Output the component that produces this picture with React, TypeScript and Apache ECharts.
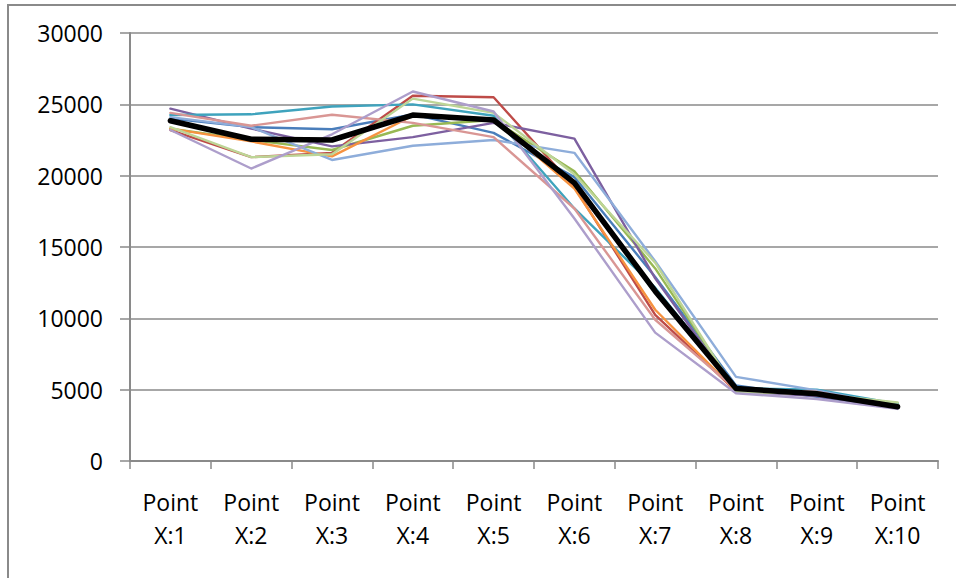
import React, { useEffect, useRef } from "react";
import * as echarts from "echarts";

const categories = [
  "Point\nX:1", "Point\nX:2", "Point\nX:3", "Point\nX:4", "Point\nX:5",
  "Point\nX:6", "Point\nX:7", "Point\nX:8", "Point\nX:9", "Point\nX:10",
];

const yTicks = { min: 0, max: 30000, interval: 5000 };

const seriesBlue = [24000, 23400, 23250, 24300, 23000, 19900, 12900, 5300, 4500, 3750];
const seriesRed = [23200, 21300, 21600, 25600, 25500, 19200, 10240, 4900, 4750, 3850];
const seriesGreen = [23300, 22500, 21800, 23500, 23900, 20300, 13500, 4950, 4700, 4050];
const seriesPurple = [24700, 23300, 22050, 22700, 23700, 22600, 12800, 4900, 4550, 3750];
const seriesTeal = [24250, 24300, 24850, 25000, 24200, 17700, 12150, 5100, 5000, 4000];
const seriesOrange = [23300, 22400, 21350, 24200, 24000, 19100, 10600, 4900, 4700, 3900];
const seriesLightBlue = [24100, 23400, 21100, 22100, 22500, 21600, 14000, 5900, 4950, 3850];
const seriesPink = [24400, 23500, 24270, 23700, 22700, 17700, 9900, 5000, 4850, 3800];
const seriesLightGreen = [23400, 21300, 21500, 25400, 24400, 20100, 13900, 4850, 4700, 4100];
const seriesLightPurple = [23200, 20500, 22900, 25900, 24500, 17000, 9000, 4750, 4350, 3650];
const seriesAverage = [23850, 22550, 22500, 24250, 23900, 19500, 11900, 5080, 4720, 3800];

const thinSeries = [
  { name: "Series 1", data: seriesBlue, color: "#4A7EBB" },
  { name: "Series 2", data: seriesRed, color: "#BE4B48" },
  { name: "Series 3", data: seriesGreen, color: "#98B954" },
  { name: "Series 4", data: seriesPurple, color: "#7D60A0" },
  { name: "Series 5", data: seriesTeal, color: "#3FA3BD" },
  { name: "Series 6", data: seriesOrange, color: "#F69240" },
  { name: "Series 7", data: seriesLightBlue, color: "#8EADDA" },
  { name: "Series 8", data: seriesPink, color: "#D99694" },
  { name: "Series 9", data: seriesLightGreen, color: "#BDD596" },
  { name: "Series 10", data: seriesLightPurple, color: "#AD9ECB" },
];

const FONT = "'Open Sans', 'DejaVu Sans', sans-serif";
const GRAY = "#8a8a8a";

export default function App() {
  const ref = useRef<HTMLDivElement>(null);

  useEffect(() => {
    if (!ref.current) return;
    const chart = echarts.init(ref.current, null, { renderer: "svg" });
    const series: any[] = thinSeries.map((s) => ({
      name: s.name,
      type: "line",
      data: s.data,
      symbol: "none",
      lineStyle: { color: s.color, width: 2.4, join: "round", cap: "round" },
      itemStyle: { color: s.color },
    }));
    series.push({
      name: "Average",
      type: "line",
      data: seriesAverage,
      symbol: "none",
      z: 5,
      lineStyle: { color: "#000000", width: 5.5, join: "round", cap: "round" },
      itemStyle: { color: "#000000" },
    });

    chart.setOption({
      animation: false,
      backgroundColor: "#ffffff",
      grid: { left: 130, right: 18, top: 33, bottom: 117, containLabel: false },
      graphic: [
        {
          type: "rect",
          shape: { x: 8, y: 5, width: 1200, height: 1200 },
          style: { fill: "none", stroke: GRAY, lineWidth: 2 },
          silent: true,
        },
      ],
      xAxis: {
        type: "category",
        data: categories,
        boundaryGap: true,
        axisLine: { show: true, lineStyle: { color: GRAY, width: 2 } },
        axisTick: { show: true, interval: 0, alignWithLabel: false, length: 8, lineStyle: { color: GRAY, width: 1.5 } },
        axisLabel: {
          interval: 0,
          color: "#000",
          fontFamily: FONT,
          fontSize: 23,
          lineHeight: 33,
          margin: 24,
          align: "center",
        },
        splitLine: { show: false },
      },
      yAxis: {
        type: "value",
        min: yTicks.min,
        max: yTicks.max,
        interval: yTicks.interval,
        axisLine: { show: true, lineStyle: { color: GRAY, width: 2 } },
        axisTick: { show: true, length: 10, lineStyle: { color: GRAY, width: 1.5 } },
        axisLabel: {
          color: "#000",
          fontFamily: FONT,
          fontSize: 23,
          margin: 27,
          formatter: (v: number) => String(v),
        },
        splitLine: { show: true, lineStyle: { color: GRAY, width: 1.5 } },
      },
      series,
    });
    return () => chart.dispose();
  }, []);

  return (
    <div
      ref={ref}
      style={{ position: "fixed", left: 0, top: 0, width: 956, height: 578, background: "#fff" }}
    />
  );
}
